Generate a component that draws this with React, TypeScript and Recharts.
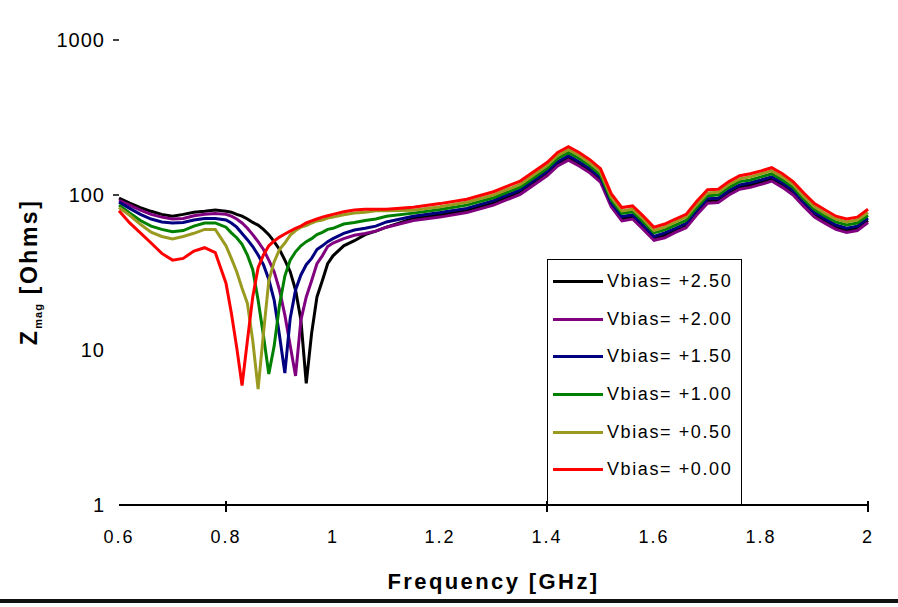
import { LineChart, Line, XAxis, YAxis, Legend } from 'recharts';

const FONT = '"Liberation Sans", Arial, sans-serif';

// frequency grid [GHz]
const FREQ = [
  0.6, 0.62, 0.64, 0.66, 0.68, 0.7, 0.72, 0.74, 0.76, 0.78, 0.8,
  0.81, 0.82, 0.83, 0.84, 0.85, 0.86, 0.87, 0.88, 0.89, 0.9,
  0.91, 0.92, 0.93, 0.94, 0.95, 0.96, 0.97, 0.98, 0.99, 1.0,
  1.02, 1.04, 1.06, 1.08, 1.1,
  1.15, 1.2, 1.25, 1.3, 1.35,
  1.4, 1.42, 1.44, 1.46, 1.48, 1.5, 1.52, 1.54, 1.56, 1.58, 1.6,
  1.62, 1.64, 1.66, 1.68, 1.7, 1.72, 1.74, 1.76, 1.78, 1.8,
  1.82, 1.84, 1.86, 1.88, 1.9, 1.92, 1.94, 1.96, 1.98, 2.0,
];

// |Z| in Ohms for each bias
const Z_250 = [
  95.5, 88.5, 83, 78.5, 75, 73, 75, 77.5, 78.5, 80, 78.5,
  77.5, 75, 73, 70, 66.5, 64, 60, 55.5, 50, 44.5,
  38, 32, 24.4, 15.6, 6.1, 12.8, 22, 28, 36, 40.5,
  47, 50.7, 55.5, 58.5, 62,
  70.6, 74.4, 79.4, 88.7, 104,
  137, 159, 173, 159, 143, 125, 86, 70, 72, 62, 52.4,
  55, 59, 63.4, 77, 91, 92, 103, 112, 116, 121,
  127, 116, 103, 87, 74, 67.6, 62, 59, 61, 68.4,
];
const Z_200 = [
  92.5, 86, 80, 75, 72, 70, 70.5, 73.5, 75, 76, 75,
  73, 70, 66, 61, 55.5, 50, 44.5, 38, 32, 24.4,
  16.8, 10.7, 6.8, 15.6, 22, 28, 36, 40.5, 46.5, 49,
  52.3, 55, 56.5, 58.5, 62,
  68.5, 72, 77, 86, 101,
  133, 154, 168, 154, 139, 121, 84, 68, 70, 60, 51,
  53, 57.4, 61.5, 74.6, 88.6, 89.4, 100, 109, 112, 117,
  123, 112, 100, 84.5, 72, 65.6, 60, 57.4, 59, 66.4,
];
const Z_150 = [
  90, 82, 75, 70, 67, 66, 66.5, 69, 70.5, 70.5, 69,
  66, 62, 56.5, 51.5, 46.5, 41, 35.5, 28.5, 21, 12.4,
  7.1, 16, 24.4, 30.5, 35.5, 39, 44.5, 47, 50, 52.3,
  56.5, 59.5, 61, 63, 67,
  73, 77, 82, 92, 108,
  142, 164, 179, 164, 148, 129.5, 89, 72.6, 74.4, 64, 54,
  57, 61, 65.6, 79.6, 94.5, 95.4, 107, 116, 120, 125,
  131, 120, 107, 90, 77, 70, 64, 61, 63, 71,
];
const Z_100 = [
  86, 76.5, 68.5, 63, 60, 58, 59, 63, 66, 66, 62,
  57, 53, 48, 41, 33, 21, 12.4, 7.0, 10.6, 19.5,
  30, 38, 43, 47, 50, 52.3, 55.5, 57.4, 60, 61,
  65, 66.5, 68.5, 70, 73,
  76.4, 80.5, 86, 96, 112.5,
  148, 172, 188, 172, 155, 135, 93, 76, 78, 67, 57,
  59.5, 64, 68.6, 83, 99, 100, 112, 122, 125, 131,
  137, 125, 112, 94, 80.5, 73, 67, 64, 66, 74,
];
const Z_050 = [
  83, 74, 64.7, 57.5, 54, 52, 54, 56.6, 60, 60, 47,
  39, 32, 25, 20, 11.5, 5.6, 12.8, 28, 37, 44.5,
  49, 55, 59, 62, 63.5, 66, 68, 69, 71, 72,
  74.5, 76.5, 77.5, 79, 79,
  79.7, 84, 89.8, 100, 117,
  155, 180, 196, 180, 161, 141, 97, 79, 81, 70, 59,
  62, 67, 72, 87, 103, 104, 117, 127, 131, 137,
  143, 131, 117, 98, 84, 76, 70, 67, 69, 77,
];
const Z_000 = [
  79, 66, 57, 49, 42, 38, 39, 43.5, 45.7, 42.5, 27,
  17.3, 10.4, 5.9, 11.5, 22, 34, 41, 47, 50.5, 53.5,
  56, 58.5, 61, 63, 66, 68, 70, 72, 73.5, 75,
  78, 80, 81, 81, 81,
  83.5, 88, 94, 105, 123,
  162, 188, 205, 188, 169, 148, 102, 83, 85, 73, 62,
  65, 70, 75, 91, 108, 109, 122, 133, 137, 143,
  150, 137, 122, 103, 88, 80, 73, 70, 72, 81,
];

const SERIES = [
  { key: 'v250', name: 'Vbias= +2.50', color: '#000000', values: Z_250 },
  { key: 'v200', name: 'Vbias= +2.00', color: '#800080', values: Z_200 },
  { key: 'v150', name: 'Vbias= +1.50', color: '#000080', values: Z_150 },
  { key: 'v100', name: 'Vbias= +1.00', color: '#008000', values: Z_100 },
  { key: 'v050', name: 'Vbias= +0.50', color: '#9a9a20', values: Z_050 },
  { key: 'v000', name: 'Vbias= +0.00', color: '#ff0000', values: Z_000 },
];

const X_TICKS = [0.6, 0.8, 1, 1.2, 1.4, 1.6, 1.8, 2];
const X_MARKED = [0.8, 1.4, 2];
const Y_TICKS = [1, 10, 100, 1000];

const rows = FREQ.map((f, i) => {
  const row: Record<string, number> = { f };
  SERIES.forEach((s) => {
    row[s.key] = s.values[i];
  });
  return row;
});

function XTick({ x, y, payload }: any) {
  const v = payload.value;
  const label = Number.isInteger(v) ? String(v) : v.toFixed(1);
  return (
    <g>
      {X_MARKED.includes(v) && (
        <line x1={x} x2={x} y1={y - 12} y2={y - 1} stroke="#000" strokeWidth={2} />
      )}
      <text x={x} y={y + 30} textAnchor="middle" fontSize={18} letterSpacing={2}
        fill="#000" fontFamily={FONT}>
        {label}
      </text>
    </g>
  );
}

function YTick({ x, y, payload }: any) {
  const v = payload.value;
  return (
    <g>
      <text x={x - 6} y={y + 7} textAnchor="end" fontSize={20} letterSpacing={1}
        fill="#000" fontFamily={FONT}>
        {String(v)}
      </text>
      {v >= 100 && <line x1={x + 2} x2={x + 8} y1={y} y2={y} stroke="#000" strokeWidth={1.5} />}
    </g>
  );
}

function YLabel() {
  return (
    <text transform="translate(37, 272) rotate(-90)" textAnchor="middle" fontFamily={FONT}
      fontWeight="bold" fill="#000" fontSize={23} letterSpacing={2.5}>
      Z
      <tspan fontSize={11} letterSpacing={1} dy={5}>mag</tspan>
      <tspan dy={-5}> [Ohms]</tspan>
    </text>
  );
}

function LegendBox({ payload }: any) {
  const order = SERIES.map((s) => s.name);
  const items = [...(payload || [])].sort((a: any, b: any) => order.indexOf(a.value) - order.indexOf(b.value));
  return (
    <div style={{
      width: 195, height: 245, borderLeft: '1.5px solid #000', borderTop: '1.5px solid #000',
      borderRight: '1.5px solid #000', boxSizing: 'border-box', background: '#fff',
      paddingTop: 3, fontFamily: FONT,
    }}>
      {items.map((p: any) => (
        <div key={p.value} style={{ display: 'flex', alignItems: 'center', height: 37.6 }}>
          <div style={{ width: 50, height: 3, background: p.color, marginLeft: 5, marginRight: 4 }} />
          <span style={{ fontSize: 18, letterSpacing: 1.6, color: '#000' }}>{p.value}</span>
        </div>
      ))}
    </div>
  );
}

export default function App() {
  return (
    <div style={{ position: 'absolute', left: 0, top: 0, width: 898, height: 607, background: '#fff' }}>
      <LineChart width={898} height={607} data={rows}
        margin={{ top: 40, right: 30, bottom: 72, left: 0 }}>
        <XAxis dataKey="f" type="number" domain={[0.6, 2]} ticks={X_TICKS} height={30}
          axisLine={{ stroke: '#000', strokeWidth: 2 }} tickLine={false} tick={<XTick />}
          label={{
            value: 'Frequency [GHz]', position: 'bottom', offset: 38,
            style: { fontFamily: FONT, fontWeight: 'bold', fontSize: 22, letterSpacing: 2.4, fill: '#000' },
          }} />
        <YAxis scale="log" domain={[1, 1000]} ticks={Y_TICKS} allowDataOverflow width={119}
          axisLine={false} tickLine={false} tick={<YTick />} label={<YLabel />} />
        <Legend layout="vertical" align="center" verticalAlign="middle" content={<LegendBox />}
          wrapperStyle={{ left: 547, top: 259, width: 195 }} />
        {SERIES.map((s) => (
          <Line key={s.key} dataKey={s.key} name={s.name} stroke={s.color} strokeWidth={3}
            dot={false} type="linear" isAnimationActive={false} />
        ))}
      </LineChart>
      <div style={{ position: 'absolute', left: 0, top: 599, width: 898, height: 4, background: '#111' }} />
    </div>
  );
}
